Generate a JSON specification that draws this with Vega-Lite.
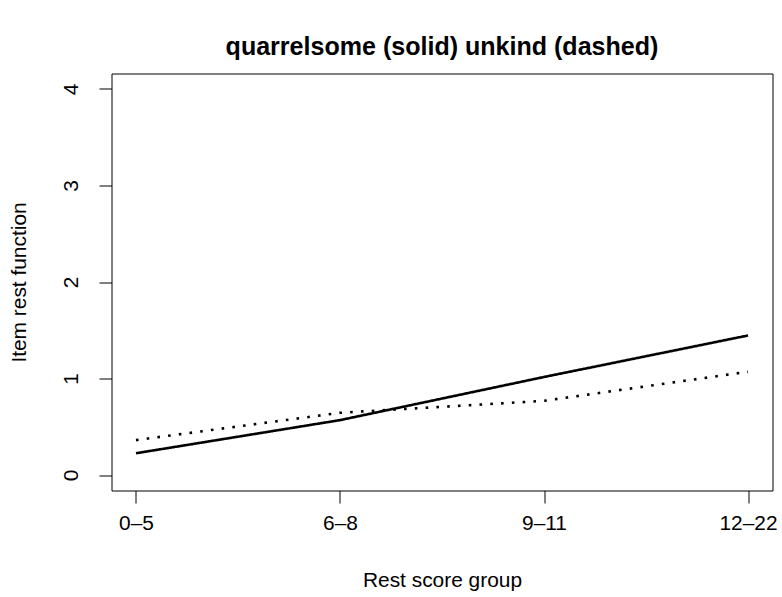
{
  "$schema": "https://vega.github.io/schema/vega-lite/v6.json",
  "autosize": {"type": "none"},
  "width": 661,
  "height": 417,
  "padding": {"left": 111.5, "top": 73.5, "right": 9.5, "bottom": 106.5},
  "background": "white",
  "config": {
    "font": "Liberation Sans",
    "view": {"stroke": "black", "strokeWidth": 1},
    "axis": {
      "domain": false,
      "grid": false,
      "tickColor": "black",
      "tickSize": 12.5,
      "labelColor": "black",
      "labelFontSize": 20.9,
      "labelFont": "Liberation Sans",
      "titleFont": "Liberation Sans",
      "titleFontSize": 20.9,
      "titleFontWeight": "normal",
      "titleColor": "black",
      "titleBaseline": "alphabetic"
    }
  },
  "title": {
    "text": "quarrelsome (solid) unkind (dashed)",
    "font": "Liberation Sans",
    "fontSize": 25.06,
    "fontWeight": "bold",
    "color": "black",
    "anchor": "middle",
    "baseline": "alphabetic",
    "offset": 10,
    "dy": 16.5
  },
  "data": {
    "values": [
      {"group": "0–5", "series": "quarrelsome", "value": 0.226},
      {"group": "6–8", "series": "quarrelsome", "value": 0.569},
      {"group": "9–11", "series": "quarrelsome", "value": 1.016},
      {"group": "12–22", "series": "quarrelsome", "value": 1.446},
      {"group": "0–5", "series": "unkind", "value": 0.362},
      {"group": "6–8", "series": "unkind", "value": 0.645},
      {"group": "9–11", "series": "unkind", "value": 0.769},
      {"group": "12–22", "series": "unkind", "value": 1.07}
    ]
  },
  "mark": {"type": "line", "color": "black", "strokeCap": "butt", "strokeWidth": 2.6},
  "encoding": {
    "x": {
      "field": "group",
      "type": "ordinal",
      "sort": ["0–5", "6–8", "9–11", "12–22"],
      "scale": {"type": "point", "padding": 0.12},
      "axis": {"title": "Rest score group", "labelAngle": 0, "labelPadding": 9, "labelBaseline": "top", "titleX": 330.5, "titleY": 96, "titleAnchor": "middle"}
    },
    "y": {
      "field": "value",
      "type": "quantitative",
      "scale": {"domain": [-0.16, 4.16], "nice": false, "zero": false},
      "axis": {"title": "Item rest function", "values": [0, 1, 2, 3, 4], "labelAngle": 270, "labelAlign": "center", "labelBaseline": "alphabetic", "labelPadding": 21.5, "titleX": -86, "titleY": 208.5, "titleAngle": 270, "titleAnchor": "middle"}
    },
    "strokeDash": {
      "field": "series",
      "type": "nominal",
      "scale": {"domain": ["quarrelsome", "unkind"], "range": [[1, 0], [2.6, 8.2]]},
      "legend": null
    }
  }
}
